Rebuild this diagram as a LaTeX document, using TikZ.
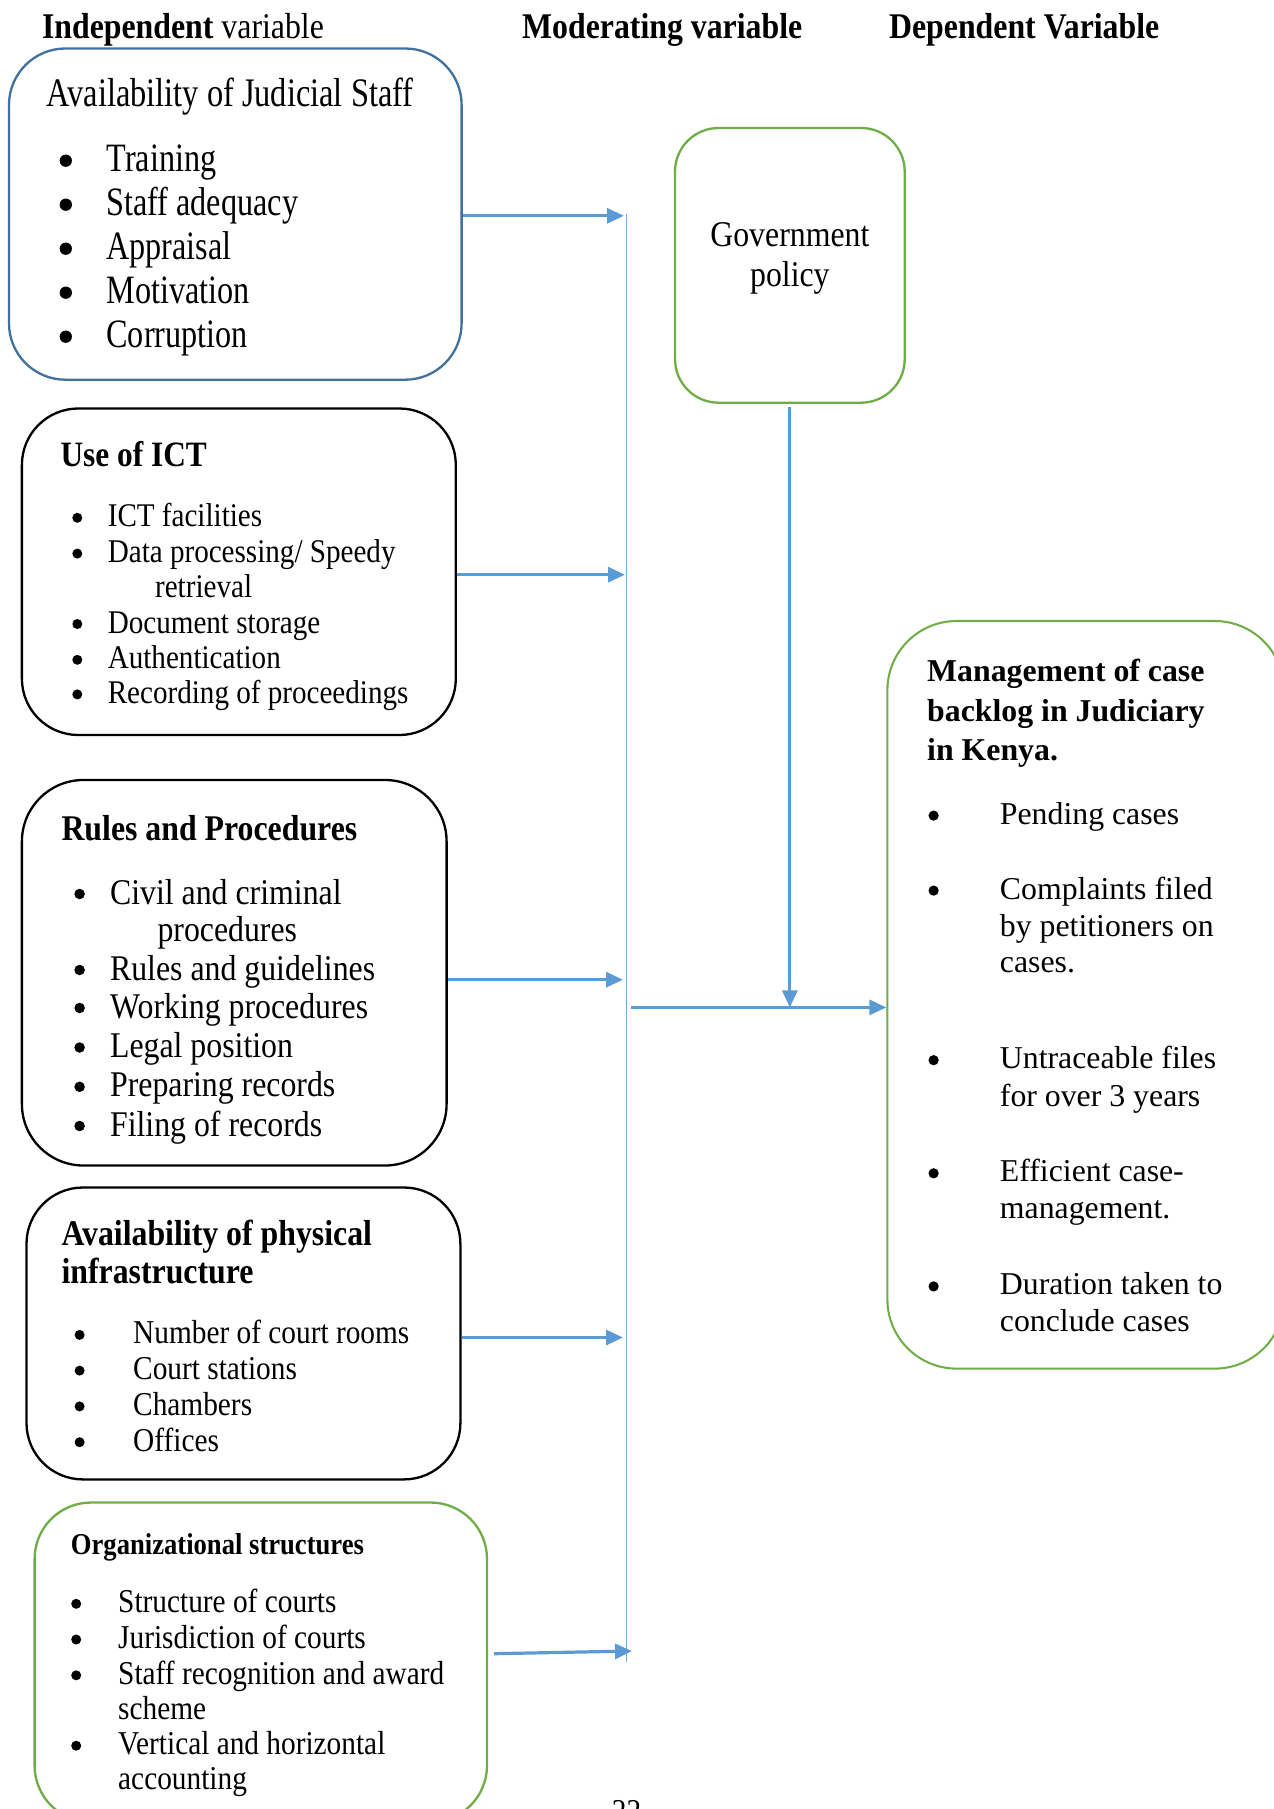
\documentclass[tikz,border=0pt]{standalone}
\usepackage{fontspec}
\setmainfont{Liberation Serif}[FakeStretch=0.88]
\newfontfamily\plainserif{Liberation Serif}
\newfontfamily\narrowserif{Liberation Serif}[FakeStretch=0.8]
\usetikzlibrary{arrows.meta,fit}
\definecolor{staffblue}{HTML}{41719C}
\definecolor{arrowblue}{HTML}{5B9BD5}
\definecolor{policygreen}{HTML}{70AD47}
\tikzset{
  panel/.style={draw, line width=0.9pt, rounded corners=22pt, inner sep=0pt},
  link/.style={arrowblue, line width=1.25pt, -{Triangle[length=6.6pt,width=5.8pt]}},
  bus/.style={arrowblue!85, line width=0.5pt},
  head/.style={anchor=base west, inner sep=0pt, font=\fontsize{14.1}{17}\selectfont\bfseries},
  txt/.style={anchor=base west, inner sep=0pt},
  dot/.style={circle, fill, inner sep=0pt, minimum size=3.9pt}
}
\begin{document}
\begin{tikzpicture}[x=0.39pt, y=-0.39pt]
\useasboundingbox (0,0) rectangle (1274,1809);

% column headings
\node[head] (hind) at (41.5,38.5) {Independent \mdseries variable};
\node[head] (hmod) at (521.6,38.5) {Moderating variable};
\node[head] (hdep) at (888.6,38.5) {Dependent Variable};

% boxes
\node[panel, draw=staffblue, fit={(9,48.5) (461.6,379.7)}] (staff) {};
\node[panel, fit={(21.9,408.5) (455.8,735)}] (ict) {};
\node[panel, rounded corners=24pt, fit={(21.9,780) (446.6,1165.5)}] (rules) {};
\node[panel, fit={(26.5,1187.5) (460.4,1479.4)}] (infra) {};
\node[panel, draw=policygreen, fit={(34.6,1502.5) (487,1822)}] (org) {};
\node[panel, draw=policygreen, rounded corners=17pt, fit={(675,128) (904.7,402.7)}] (gov) {};
\node[panel, draw=policygreen, line width=0.8pt, rounded corners=27pt, fit={(887.4,621) (1284,1368.6)}] (mgmt) {};

% judicial staff
\node[txt, font=\narrowserif\fontsize{15.8}{17}\selectfont] (stafft) at (46,107) {Availability of Judicial Staff};
\begin{scope}[font=\narrowserif\fontsize{15.7}{17}\selectfont]
  \foreach \y/\t [count=\i] in {171.7/Training, 215.7/Staff adequacy, 259.7/Appraisal, 303.7/Motivation, 347.7/Corruption}
    { \node[dot, minimum size=4.8pt] (sb\i) at (65.8,\y-11) {}; \node[txt] (si\i) at (106,\y) {\t}; }
\end{scope}

% ict
\node[txt, font=\fontsize{13.9}{16}\selectfont\bfseries] (ictt) at (60,466.5) {Use of ICT};
\begin{scope}[font=\fontsize{12.9}{14}\selectfont]
  \foreach \y [count=\i] in {526.8,562.6,633,668.8,703.4} \node[dot] (ib\i) at (77.3,\y-9) {};
  \foreach \x/\y/\t [count=\i] in {107.3/526.8/ICT facilities, 107.3/562.6/{Data processing/ Speedy}, 154.6/597.2/retrieval,
      107.3/633/Document storage, 107.3/668.8/Authentication, 107.3/703.4/Recording of proceedings}
    \node[txt] (ii\i) at (\x,\y) {\t};
\end{scope}

% rules
\node[txt, font=\fontsize{14.1}{17}\selectfont\bfseries] (rulest) at (61,840.6) {Rules and Procedures};
\begin{scope}[font=\fontsize{14.1}{15}\selectfont]
  \foreach \y [count=\i] in {904,980,1018,1057.5,1096.8,1136} \node[dot, minimum size=4.1pt] (rb\i) at (79.6,\y-10) {};
  \foreach \x/\y/\t [count=\i] in {109.6/904/Civil and criminal, 157/941/procedures, 109.6/980/Rules and guidelines,
      109.6/1018/Working procedures, 109.6/1057.5/Legal position, 109.6/1096.8/Preparing records, 109.6/1136/Filing of records}
    \node[txt] (ri\i) at (\x,\y) {\t};
\end{scope}

% physical infrastructure
\begin{scope}[font=\fontsize{14.1}{17}\selectfont\bfseries]
  \node[txt] (infrat1) at (61,1245.6) {Availability of physical};
  \node[txt] (infrat2) at (61,1283.7) {infrastructure};
\end{scope}
\begin{scope}[font=\fontsize{13}{14}\selectfont]
  \foreach \y/\t [count=\i] in {1343.9/Number of court rooms, 1379.6/Court stations, 1415.4/Chambers, 1451.2/Offices}
    { \node[dot] (pb\i) at (79.6,\y-9) {}; \node[txt] (pi\i) at (132.7,\y) {\t}; }
\end{scope}

% organizational structures
\node[txt, font=\fontsize{11.8}{14}\selectfont\bfseries] (orgt) at (70.4,1554) {Organizational structures};
\begin{scope}[font=\fontsize{13}{14}\selectfont]
  \foreach \y [count=\i] in {1612.8,1648.5,1684.3,1754.7} \node[dot] (ob\i) at (76.2,\y-9) {};
  \foreach \y/\t [count=\i] in {1612.8/Structure of courts, 1648.5/Jurisdiction of courts, 1684.3/Staff recognition and award,
      1719/scheme, 1754.7/Vertical and horizontal, 1789.4/accounting}
    \node[txt] (oi\i) at (117.7,\y) {\t};
\end{scope}

% government policy
\begin{scope}[font=\fontsize{14.1}{16}\selectfont]
  \node[anchor=base, inner sep=0pt] (govt1) at (789.85,246.3) {Government};
  \node[anchor=base, inner sep=0pt] (govt2) at (789.85,286.6) {policy};
\end{scope}

% case backlog
\foreach \y/\t [count=\i] in {681/Management of case, 721.4/backlog in Judiciary, 760.6/in Kenya.}
  \node[txt, font=\plainserif\fontsize{12.4}{14.4}\selectfont\bfseries] (mt\i) at (926.7,\y) {\t};
\begin{scope}[font=\plainserif\fontsize{12.4}{14.4}\selectfont]
  \foreach \y [count=\i] in {824.1,899.1,1068.7,1181.8,1294.9} \node[dot, minimum size=4pt] (mb\i) at (933.6,\y-8.5) {};
  \foreach \y/\t [count=\i] in {824.1/Pending cases, 899.1/Complaints filed, 936/by petitioners on, 972.9/cases.,
      1068.7/Untraceable files, 1106.8/for over 3 years, 1181.8/Efficient case-, 1218.7/management.,
      1294.9/Duration taken to, 1331.8/conclude cases}
    \node[txt] (mi\i) at (999.4,\y) {\t};
\end{scope}

% page number, cut at the bottom
\node[anchor=north, inner sep=0pt, font=\fontsize{13}{15}\selectfont] (pageno) at (626.6,1800) {22};

% connectors
\coordinate (bustop) at (626.6,214);
\coordinate (busbot) at (626.6,1662);
\draw[bus] (bustop) -- (busbot);
\coordinate (in1) at (624,215.8);
\coordinate (in2) at (625,574.7);
\coordinate (in3) at (623,979.7);
\coordinate (in4) at (623,1337.5);
\coordinate (out5) at (494,1653.7);
\coordinate (in5) at (632,1651);
\coordinate (join) at (631,1007.4);
\draw[link] (staff.east |- in1) -- (in1);
\draw[link] (ict.east |- in2) -- (in2);
\draw[link] (rules.east |- in3) -- (in3);
\draw[link] (infra.east |- in4) -- (in4);
\draw[link] (out5) -- (in5);
\draw[link] (join) -- (join -| mgmt.west);
\draw[link, shorten <=1.2pt] (gov.south) -- (gov.south |- join);
\end{tikzpicture}
\end{document}
